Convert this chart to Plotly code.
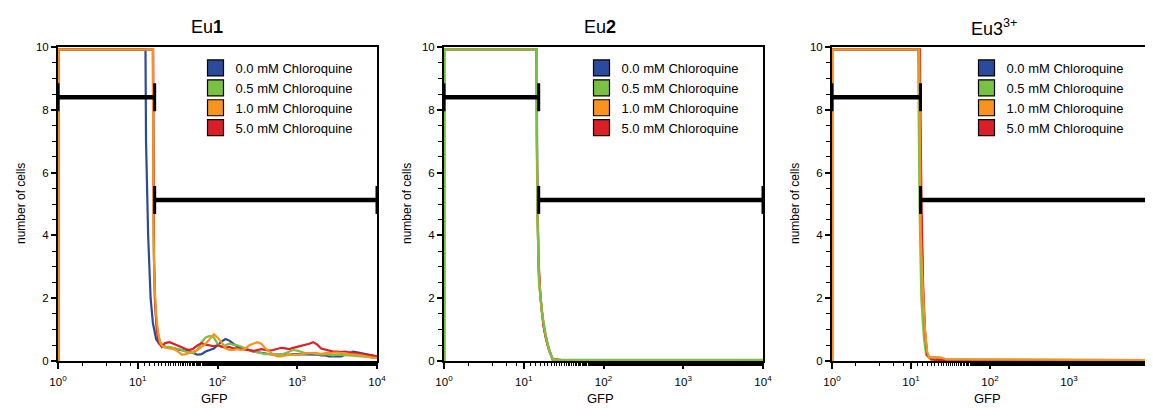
import plotly.graph_objects as go

# ---------------- data ----------------
SERIES_NAMES = ["0.0 mM Chloroquine", "0.5 mM Chloroquine", "1.0 mM Chloroquine", "5.0 mM Chloroquine"]
SERIES_COLORS = ["#2b4a9c", "#79c143", "#f7931e", "#dc1e26"]

PANEL_TITLES = ["Eu<b>1</b>", "Eu<b>2</b>", "Eu3<sup>3+</sup>"]

X_TICKS = [1, 10, 100, 1000, 10000]
X_TICK_TEXT = ["10<sup>0</sup>", "10<sup>1</sup>", "10<sup>2</sup>", "10<sup>3</sup>", "10<sup>4</sup>"]
Y_TICKS = [0, 2, 4, 6, 8, 10]

# shared GFP bins for the Eu1 low-level tail
GFP_BINS = [20, 22, 25, 28, 32, 36, 40, 45, 50, 56, 63, 71, 80, 90, 100, 112, 126, 141, 158, 178,
            200, 224, 251, 282, 316, 355, 398, 447, 501, 562, 631, 708, 794, 891, 1000, 1122, 1259,
            1413, 1585, 1778, 1995, 2239, 2512, 2818, 3162, 3548, 3981, 4467, 5012, 5623, 6310,
            7079, 7943, 8913, 10000]

# Eu1 heads (plateau + drop)
EU1_BLUE_HX = [1.02, 1.02, 12.5, 12.7, 13.5, 14.5, 15.5, 17.0, 18.5]
EU1_BLUE_HY = [0, 9.92, 9.92, 7.0, 4.0, 2.0, 1.2, 0.7, 0.55]
EU1_GREEN_HX = [1.02, 1.02, 15.4, 15.6, 15.9, 16.4, 17.2, 18.2, 19.2]
EU1_GREEN_HY = [0, 9.92, 9.92, 6.5, 3.5, 2.0, 1.2, 0.8, 0.6]
EU1_ORANGE_HX = [1.02, 1.02, 15.5, 15.6, 15.8, 16.2, 17.0, 18.0, 19.0]
EU1_ORANGE_HY = [0, 9.92, 9.92, 7.0, 4.0, 2.5, 1.5, 0.9, 0.6]
EU1_RED_HX = [1.02, 1.02, 15.6, 15.7, 16.0, 16.5, 17.3, 18.3, 19.3]
EU1_RED_HY = [0, 9.92, 9.92, 6.0, 3.2, 1.8, 1.0, 0.6, 0.5]

# Eu1 tails on GFP_BINS
EU1_BLUE_TAIL = [0.5, 0.45, 0.42, 0.4, 0.38, 0.35, 0.33, 0.3, 0.25, 0.2, 0.22, 0.3, 0.35, 0.4, 0.5,
                 0.62, 0.7, 0.65, 0.55, 0.45, 0.4, 0.38, 0.35, 0.3, 0.28, 0.25, 0.25, 0.22, 0.2, 0.2,
                 0.2, 0.18, 0.2, 0.22, 0.22, 0.2, 0.2, 0.22, 0.22, 0.2, 0.18, 0.18, 0.15, 0.15, 0.13,
                 0.15, 0.2, 0.25, 0.3, 0.28, 0.25, 0.22, 0.2, 0.18, 0.15]
EU1_GREEN_TAIL = [0.55, 0.45, 0.45, 0.42, 0.38, 0.35, 0.3, 0.27, 0.25, 0.35, 0.6, 0.75, 0.8, 0.75,
                  0.55, 0.45, 0.5, 0.55, 0.52, 0.5, 0.45, 0.4, 0.35, 0.3, 0.28, 0.25, 0.22, 0.22,
                  0.2, 0.2, 0.2, 0.25, 0.3, 0.35, 0.33, 0.28, 0.25, 0.25, 0.25, 0.22, 0.2, 0.22, 0.2,
                  0.18, 0.2, 0.2, 0.18, 0.18, 0.17, 0.15, 0.15, 0.14, 0.13, 0.12, 0.1]
EU1_ORANGE_TAIL = [0.5, 0.42, 0.4, 0.38, 0.3, 0.2, 0.22, 0.25, 0.3, 0.35, 0.45, 0.55, 0.7, 0.85,
                   0.75, 0.6, 0.4, 0.35, 0.35, 0.38, 0.35, 0.4, 0.5, 0.55, 0.6, 0.55, 0.4, 0.3, 0.2,
                   0.15, 0.15, 0.18, 0.2, 0.2, 0.2, 0.22, 0.25, 0.25, 0.25, 0.25, 0.22, 0.25, 0.25,
                   0.27, 0.27, 0.25, 0.25, 0.22, 0.22, 0.2, 0.18, 0.15, 0.12, 0.1, 0.1]
EU1_RED_TAIL = [0.45, 0.57, 0.6, 0.55, 0.48, 0.42, 0.38, 0.35, 0.4, 0.5, 0.57, 0.52, 0.5, 0.47, 0.5,
                0.45, 0.42, 0.45, 0.4, 0.4, 0.38, 0.36, 0.35, 0.32, 0.35, 0.38, 0.35, 0.33, 0.35,
                0.38, 0.42, 0.4, 0.38, 0.42, 0.45, 0.48, 0.5, 0.55, 0.6, 0.52, 0.4, 0.36, 0.33, 0.3,
                0.3, 0.28, 0.3, 0.27, 0.25, 0.24, 0.22, 0.2, 0.2, 0.16, 0.15]

# Eu2 complete curves
EU2_BLUE_X = [1.0, 1.0, 14.5, 14.7, 15.3, 16.5, 18.0, 20.0, 23.0, 30.0, 10000]
EU2_BLUE_Y = [0, 9.92, 9.92, 6.0, 3.0, 1.8, 1.0, 0.5, 0.05, 0.03, 0.03]
EU2_GREEN_X = [1.02, 1.02, 14.6, 14.8, 15.5, 17.0, 19.0, 21.0, 23.5, 30.0, 10000]
EU2_GREEN_Y = [0, 9.92, 9.92, 5.0, 2.5, 1.5, 0.8, 0.3, 0.04, 0.04, 0.04]
EU2_ORANGE_X = [1.0, 1.0, 14.5, 14.7, 15.4, 16.8, 18.5, 20.5, 23.0, 30.0, 10000]
EU2_ORANGE_Y = [0, 9.92, 9.92, 5.5, 2.8, 1.6, 0.9, 0.4, 0.05, 0.03, 0.03]
EU2_RED_X = [1.0, 1.0, 14.5, 14.6, 15.2, 16.0, 17.5, 19.0, 21.0, 23.0, 30.0, 10000]
EU2_RED_Y = [0, 9.92, 9.92, 7.0, 3.5, 2.2, 1.2, 0.7, 0.3, 0.05, 0.03, 0.03]

# Eu3 complete curves
EU3_BLUE_X = [1.0, 1.0, 12.8, 13.0, 13.5, 14.2, 15.0, 16.0, 18.0, 25.0, 10000]
EU3_BLUE_Y = [0, 9.92, 9.92, 7.5, 4.5, 2.2, 0.9, 0.2, 0.06, 0.03, 0.03]
EU3_GREEN_X = [1.0, 1.0, 12.3, 12.4, 12.8, 13.5, 14.5, 15.5, 17.0, 20.0, 24.0, 10000]
EU3_GREEN_Y = [0, 9.92, 9.92, 9.0, 5.0, 2.0, 0.8, 0.2, 0.1, 0.12, 0.05, 0.03]
EU3_RED_X = [1.0, 1.0, 13.0, 13.1, 13.6, 14.2, 15.0, 16.0, 18.0, 25.0, 10000]
EU3_RED_Y = [0, 9.92, 9.92, 8.0, 5.0, 2.5, 1.0, 0.2, 0.05, 0.03, 0.03]
EU3_ORANGE_X = [1.02, 1.02, 12.7, 12.9, 13.3, 14.0, 15.0, 16.0, 17.0, 18.0, 20.0, 22.0, 25.0, 28.0, 10000]
EU3_ORANGE_Y = [0, 9.92, 9.92, 7.0, 4.0, 2.5, 1.0, 0.3, 0.1, 0.12, 0.1, 0.12, 0.1, 0.05, 0.03]

# gate markers
GATE_SPLIT = [16.3, 15.4, 13.2]
GATE_LOW_Y = 8.4
GATE_HIGH_Y = 5.13
GATE_MIN = 1
GATE_MAX = 10000

# ---------------- figure ----------------
# the page body adds an 8px offset; figure is sized to fit the window
OFF = 8
W, H = 1153 - OFF, 408 - OFF
MT = 47 - OFF
PLOT_BOTTOM = 361 - OFF
MB = H - PLOT_BOTTOM
PLOT_H = PLOT_BOTTOM - MT
AXIS_LEFT_PAGE = [58, 444, 832]
AXIS_RIGHT_PAGE = [377, 763, 1148]
X_DOMAINS = [[(l - OFF) / W, (r - OFF) / W] for l, r in zip(AXIS_LEFT_PAGE, AXIS_RIGHT_PAGE)]
TITLE_X_PAGE = [207, 600, 994]
LEGEND_CENTER_PAGE = [216, 602, 987]


def py(page_y):
    """page pixel y -> paper y"""
    return (PLOT_BOTTOM - (page_y - OFF)) / PLOT_H


def px(page_x):
    return (page_x - OFF) / W


fig = go.Figure()

panel1 = [
    (EU1_BLUE_HX + GFP_BINS, EU1_BLUE_HY + EU1_BLUE_TAIL, 0),
    (EU1_GREEN_HX + GFP_BINS, EU1_GREEN_HY + EU1_GREEN_TAIL, 1),
    (EU1_RED_HX + GFP_BINS, EU1_RED_HY + EU1_RED_TAIL, 3),
    (EU1_ORANGE_HX + GFP_BINS, EU1_ORANGE_HY + EU1_ORANGE_TAIL, 2),
]
panel2 = [
    (EU2_BLUE_X, EU2_BLUE_Y, 0),
    (EU2_RED_X, EU2_RED_Y, 3),
    (EU2_ORANGE_X, EU2_ORANGE_Y, 2),
    (EU2_GREEN_X, EU2_GREEN_Y, 1),
]
panel3 = [
    (EU3_BLUE_X, EU3_BLUE_Y, 0),
    (EU3_GREEN_X, EU3_GREEN_Y, 1),
    (EU3_RED_X, EU3_RED_Y, 3),
    (EU3_ORANGE_X, EU3_ORANGE_Y, 2),
]

for p, panel in enumerate([panel1, panel2, panel3]):
    sfx = "" if p == 0 else str(p + 1)
    xa, ya = "x" + sfx, "y" + sfx
    for xs, ys, ci in panel:
        fig.add_trace(go.Scatter(x=xs, y=ys, mode="lines", xaxis=xa, yaxis=ya,
                                 line=dict(color=SERIES_COLORS[ci], width=2.2),
                                 showlegend=False, hoverinfo="skip"))
    # gates
    for gx, gy in [([GATE_MIN, GATE_SPLIT[p]], GATE_LOW_Y), ([GATE_SPLIT[p], GATE_MAX], GATE_HIGH_Y)]:
        fig.add_trace(go.Scatter(x=gx, y=[gy, gy], mode="lines+markers", xaxis=xa, yaxis=ya,
                                 line=dict(color="black", width=4.5),
                                 marker=dict(symbol="line-ns", size=20,
                                             line=dict(color="black", width=3)),
                                 cliponaxis=False, showlegend=False, hoverinfo="skip"))
    # legend swatches
    leg = "legend" if p == 0 else "legend" + str(p + 1)
    for name, col in zip(SERIES_NAMES, SERIES_COLORS):
        fig.add_trace(go.Scatter(x=[None], y=[None], mode="markers", name=name, xaxis=xa, yaxis=ya,
                                 marker=dict(symbol="square", size=16, color=col,
                                             line=dict(color="black", width=1.2)),
                                 legend=leg, showlegend=True))

FONT = "Liberation Sans, Arial, sans-serif"
layout = dict(
    width=W, height=H,
    margin=dict(l=0, r=0, t=MT, b=MB, pad=0),
    paper_bgcolor="white", plot_bgcolor="white",
    font=dict(family=FONT, color="black", size=11),
)

for p in range(3):
    sfx = "" if p == 0 else str(p + 1)
    layout["xaxis" + sfx] = dict(
        type="log", range=[0, 4], domain=X_DOMAINS[p], anchor="y" + sfx,
        showline=True, linecolor="black", linewidth=2, mirror=True,
        ticks="outside", ticklen=6, tickwidth=1.5, tickcolor="black",
        tickvals=X_TICKS, ticktext=X_TICK_TEXT, tickfont=dict(size=11.5),
        ticklabelstandoff=3,
        minor=dict(ticks="outside", ticklen=3, tickwidth=1.2, tickcolor="black", showgrid=False),
        showgrid=False, zeroline=False, automargin=False,
    )
    layout["yaxis" + sfx] = dict(
        range=[0, 10], domain=[0, 1], anchor="x" + sfx,
        showline=True, linecolor="black", linewidth=2, mirror=True,
        ticks="outside", ticklen=5, tickwidth=1.5, tickcolor="black",
        tickvals=Y_TICKS, tickfont=dict(size=11.5),
        minor=dict(ticks="outside", ticklen=4, tickwidth=1.2, tickcolor="black", dtick=0.5, showgrid=False),
        showgrid=False, zeroline=False, automargin=False,
    )
    leg = "legend" if p == 0 else "legend" + str(p + 1)
    layout[leg] = dict(
        x=px(LEGEND_CENTER_PAGE[p] - 20.5), xanchor="left",
        y=py(53), yanchor="top",
        bgcolor="rgba(0,0,0,0)", borderwidth=0,
        font=dict(size=13, family=FONT), itemsizing="trace", tracegroupgap=0,
    )

fig.update_layout(**layout)

for p in range(3):
    # panel title
    fig.add_annotation(text=PANEL_TITLES[p], xref="paper", yref="paper", x=px(TITLE_X_PAGE[p]), y=py(27),
                       showarrow=False, font=dict(size=18, family=FONT), xanchor="center", yanchor="middle")
    # x-axis title
    fig.add_annotation(text="GFP", xref="paper", yref="paper",
                       x=px((AXIS_LEFT_PAGE[p] + AXIS_RIGHT_PAGE[p]) / 2 - 3), y=py(398),
                       showarrow=False, font=dict(size=13, family=FONT), xanchor="center", yanchor="middle")
    # y-axis title
    fig.add_annotation(text="number of cells", xref="paper", yref="paper",
                       x=px(AXIS_LEFT_PAGE[p] - 37), y=py(204), textangle=-90,
                       showarrow=False, font=dict(size=12, family=FONT), xanchor="center", yanchor="middle")

fig.write_html("out.html")
